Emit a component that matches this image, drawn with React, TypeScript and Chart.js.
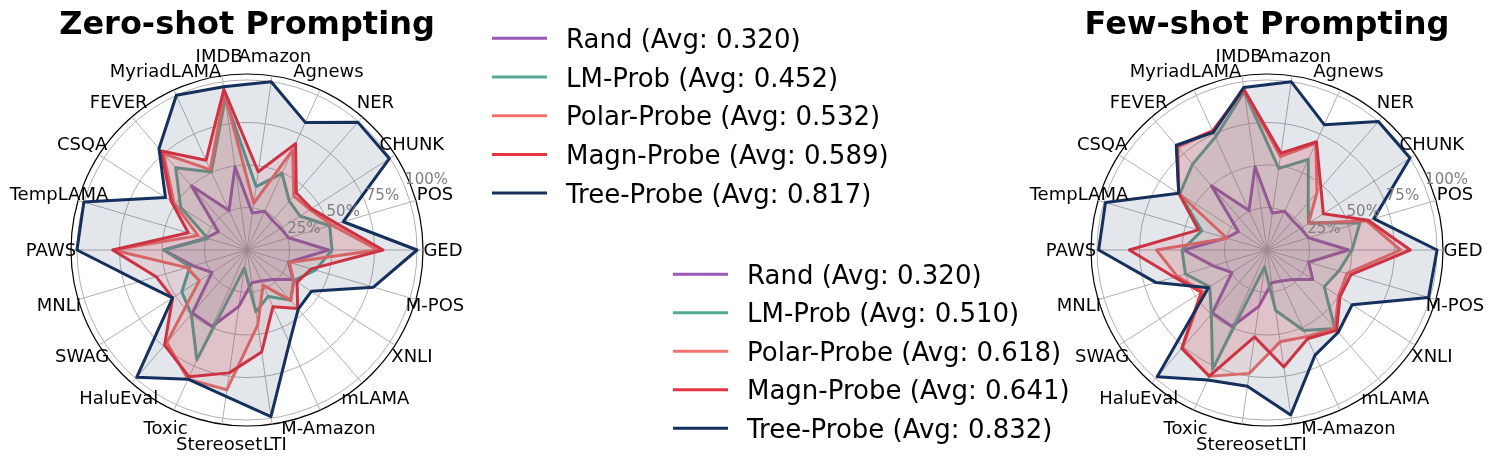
import React, { useEffect, useRef } from 'react';
import { Chart, registerables } from 'chart.js';

Chart.register(...registerables);

// Categories in clockwise screen order, starting at the right (GED)
const categories = ['GED', 'M-POS', 'XNLI', 'mLAMA', 'M-Amazon', 'LTI', 'Stereoset', 'Toxic', 'HaluEval', 'SWAG', 'MNLI', 'PAWS', 'TempLAMA', 'CSQA', 'FEVER', 'MyriadLAMA', 'IMDB', 'Amazon', 'Agnews', 'NER', 'CHUNK', 'POS'];

const seriesNames = ['Rand', 'LM-Prob', 'Polar-Probe', 'Magn-Probe', 'Tree-Probe'];
const seriesColors = ['#9b59b6', '#52a996', '#f2736e', '#e63340', '#15305c'];

const zeroAvg = ['0.320', '0.452', '0.532', '0.589', '0.817'];
const fewAvg = ['0.320', '0.510', '0.618', '0.641', '0.832'];

const randScores = [0.48, 0.255, 0.32, 0.23, 0.2, 0.195, 0.335, 0.495, 0.49, 0.245, 0.33, 0.49, 0.25, 0.2, 0.5, 0.255, 0.495, 0.22, 0.25, 0.23, 0.235, 0.255];

const lmZero = [0.5, 0.42, 0.33, 0.39, 0.3, 0.367, 0.108, 0.71, 0.5, 0.456, 0.35, 0.49, 0.24, 0.464, 0.64, 0.505, 0.9, 0.377, 0.495, 0.38, 0.37, 0.507];
const polarZero = [0.77, 0.26, 0.325, 0.394, 0.227, 0.445, 0.83, 0.835, 0.72, 0.333, 0.368, 0.786, 0.3, 0.51, 0.75, 0.52, 0.93, 0.277, 0.647, 0.42, 0.44, 0.52];
const magnZero = [0.8, 0.395, 0.35, 0.455, 0.367, 0.606, 0.73, 0.82, 0.74, 0.52, 0.557, 0.79, 0.36, 0.53, 0.77, 0.58, 0.955, 0.465, 0.688, 0.443, 0.45, 0.55];
const treeZero = [1.0, 0.775, 0.45, 0.46, 0.6, 0.99, 0.87, 0.835, 0.99, 0.52, 0.66, 1.0, 1.0, 0.57, 0.79, 1.0, 0.97, 1.0, 0.825, 0.995, 0.995, 0.59];

const lmFew = [0.5, 0.44, 0.4, 0.61, 0.52, 0.36, 0.1, 0.77, 0.5, 0.4, 0.5, 0.5, 0.4, 0.61, 0.668, 0.73, 0.94, 0.485, 0.585, 0.37, 0.29, 0.57];
const polarFew = [0.785, 0.49, 0.5, 0.61, 0.56, 0.545, 0.733, 0.816, 0.76, 0.45, 0.55, 0.65, 0.245, 0.617, 0.8, 0.77, 0.95, 0.555, 0.69, 0.45, 0.29, 0.61];
const magnFew = [0.843, 0.515, 0.51, 0.625, 0.574, 0.695, 0.516, 0.816, 0.766, 0.46, 0.567, 0.81, 0.42, 0.617, 0.81, 0.77, 0.955, 0.575, 0.7, 0.484, 0.394, 0.62];
const treeFew = [1.0, 0.99, 0.595, 0.64, 0.68, 0.98, 0.81, 0.84, 0.986, 0.41, 0.68, 0.99, 0.99, 0.617, 0.815, 0.76, 0.965, 1.0, 0.81, 1.0, 1.0, 0.655];

const gridValues = [0, 0.25, 0.5, 0.75, 1.0, 1.035];
const tickLabels = ['25%', '50%', '75%', '100%'];
const tickLabelValues = [0.25, 0.5, 0.75, 1.0];

const FONT = '"DejaVu Sans", "Liberation Sans", sans-serif';

const decorPlugin = {
  id: 'decor',
  afterDraw(chart: any, _args: any, opts: any) {
    const ctx = chart.ctx;
    const scale = chart.scales.r;
    const xc = scale.xCenter;
    const yc = scale.yCenter;
    ctx.save();
    // title
    ctx.fillStyle = '#000';
    ctx.font = `bold 32px ${FONT}`;
    ctx.textAlign = 'center';
    ctx.textBaseline = 'alphabetic';
    ctx.fillText(opts.title, xc, 34);
    // point labels
    ctx.font = `18px ${FONT}`;
    ctx.textBaseline = 'middle';
    const labels = chart.data.labels;
    for (let i = 0; i < labels.length; i++) {
      const p = scale.getPointPosition(i, scale.drawingArea + 20);
      ctx.fillText(labels[i], p.x, p.y + 1);
    }
    // radial tick labels at 22.5 degrees
    ctx.font = `15px ${FONT}`;
    ctx.fillStyle = '#7f7f7f';
    ctx.textAlign = 'left';
    ctx.textBaseline = 'alphabetic';
    const a = (22.5 * Math.PI) / 180;
    tickLabelValues.forEach((v, k) => {
      const d = scale.getDistanceFromCenterForValue(v);
      ctx.fillText(tickLabels[k], xc + d * Math.cos(a) + 1, yc - d * Math.sin(a) - 1);
    });
    // legend
    const lg = opts.legend;
    ctx.font = `26px ${FONT}`;
    ctx.fillStyle = '#000';
    chart.data.datasets
      .slice()
      .sort((p: any, q: any) => p.legendIndex - q.legendIndex)
      .forEach((ds: any, k: number) => {
        const y = lg.y + k * lg.dy;
        ctx.strokeStyle = ds.borderColor;
        ctx.lineWidth = 3;
        ctx.beginPath();
        ctx.moveTo(lg.x, y);
        ctx.lineTo(lg.x + 55, y);
        ctx.stroke();
        ctx.fillText(ds.label, lg.x + 74, y + 9.5);
      });
    ctx.restore();
  },
};

function buildConfig(title: string, values: number[][], avgs: string[], padding: any, legend: any) {
  const datasets = values.map((vals, k) => ({
    label: `${seriesNames[k]} (Avg: ${avgs[k]})`,
    data: vals,
    borderColor: seriesColors[k],
    backgroundColor: seriesColors[k] + '1f',
    borderWidth: 3,
    borderJoinStyle: 'round',
    fill: true,
    pointRadius: 0,
    pointHoverRadius: 0,
    order: values.length - 1 - k,
    legendIndex: k,
  }));
  return {
    type: 'radar',
    data: { labels: categories, datasets },
    options: {
      responsive: false,
      animation: false,
      devicePixelRatio: 1,
      layout: { padding },
      elements: { line: { tension: 0 } },
      plugins: {
        legend: { display: false },
        tooltip: { enabled: false },
        title: { display: false },
        decor: { title, legend },
      },
      scales: {
        r: {
          min: 0,
          max: 1.035,
          startAngle: 90,
          afterBuildTicks: (axis: any) => {
            axis.ticks = gridValues.map((v) => ({ value: v }));
          },
          ticks: { display: false },
          pointLabels: { display: false },
          grid: {
            circular: true,
            color: (c: any) => (c.tick && c.tick.value > 1.01 ? '#000000' : '#b0b0b0'),
            lineWidth: (c: any) => (c.tick && c.tick.value > 1.01 ? 1.2 : 1),
          },
          angleLines: { color: '#b0b0b0', lineWidth: 1 },
        },
      },
    },
    plugins: [decorPlugin],
  };
}

export default function App() {
  const leftRef = useRef<HTMLCanvasElement>(null);
  const rightRef = useRef<HTMLCanvasElement>(null);

  useEffect(() => {
    const left = new Chart(
      leftRef.current as HTMLCanvasElement,
      buildConfig(
        'Zero-shot Prompting',
        [randScores, lmZero, polarZero, magnZero, treeZero],
        zeroAvg,
        { left: 71, right: 1071, top: 74, bottom: 37 },
        { x: 492, y: 38.3, dy: 38.7 }
      ) as any
    );
    const right = new Chart(
      rightRef.current as HTMLCanvasElement,
      buildConfig(
        'Few-shot Prompting',
        [randScores, lmFew, polarFew, magnFew, treeFew],
        fewAvg,
        { left: 1091, right: 51, top: 74, bottom: 37 },
        { x: 673, y: 274.3, dy: 38.5 }
      ) as any
    );
    return () => {
      left.destroy();
      right.destroy();
    };
  }, []);

  return (
    <div style={{ position: 'absolute', left: 0, top: 0, width: 1494, height: 463, background: '#fff' }}>
      <canvas ref={leftRef} width={1494} height={463} style={{ position: 'absolute', left: 0, top: 0 }} />
      <canvas ref={rightRef} width={1494} height={463} style={{ position: 'absolute', left: 0, top: 0 }} />
    </div>
  );
}
